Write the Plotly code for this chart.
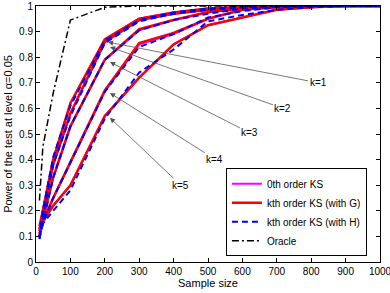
import plotly.graph_objects as go

sample_size = [10, 20, 50, 100, 200, 300, 400, 500, 600, 700, 800, 900, 1000]
k_labels = ["k=1", "k=2", "k=3", "k=4", "k=5"]

ks0 = [
    [0.10, 0.20, 0.40, 0.62, 0.87, 0.95, 0.975, 0.99, 0.997, 1.0, 1.0, 1.0, 1.0],
    [0.10, 0.19, 0.38, 0.58, 0.86, 0.945, 0.97, 0.985, 0.995, 1.0, 1.0, 1.0, 1.0],
    [0.10, 0.16, 0.33, 0.53, 0.79, 0.905, 0.945, 0.975, 0.99, 0.997, 1.0, 1.0, 1.0],
    [0.10, 0.15, 0.25, 0.39, 0.665, 0.85, 0.89, 0.95, 0.985, 0.995, 1.0, 1.0, 1.0],
    [0.10, 0.16, 0.22, 0.30, 0.57, 0.72, 0.85, 0.925, 0.955, 0.985, 0.995, 1.0, 1.0],
]
ks_g = [
    [0.12, 0.20, 0.40, 0.62, 0.87, 0.95, 0.975, 0.99, 0.997, 1.0, 1.0, 1.0, 1.0],
    [0.14, 0.20, 0.38, 0.58, 0.86, 0.945, 0.97, 0.985, 0.995, 1.0, 1.0, 1.0, 1.0],
    [0.13, 0.17, 0.33, 0.53, 0.79, 0.91, 0.945, 0.977, 0.99, 0.997, 1.0, 1.0, 1.0],
    [0.13, 0.16, 0.25, 0.39, 0.67, 0.855, 0.895, 0.95, 0.985, 0.995, 1.0, 1.0, 1.0],
    [0.11, 0.16, 0.22, 0.30, 0.57, 0.72, 0.85, 0.925, 0.955, 0.985, 0.995, 1.0, 1.0],
]
ks_h = [
    [0.10, 0.20, 0.41, 0.61, 0.865, 0.945, 0.975, 0.99, 0.997, 1.0, 1.0, 1.0, 1.0],
    [0.09, 0.18, 0.38, 0.57, 0.855, 0.94, 0.97, 0.985, 0.995, 1.0, 1.0, 1.0, 1.0],
    [0.10, 0.15, 0.33, 0.53, 0.79, 0.905, 0.945, 0.97, 0.99, 0.997, 1.0, 1.0, 1.0],
    [0.09, 0.15, 0.25, 0.39, 0.665, 0.84, 0.89, 0.955, 0.98, 0.995, 1.0, 1.0, 1.0],
    [0.15, 0.15, 0.20, 0.28, 0.56, 0.74, 0.83, 0.94, 0.965, 0.985, 0.995, 1.0, 1.0],
]
oracle = [0.24, 0.45, 0.66, 0.945, 0.995, 1.0, 1.0, 1.0, 1.0, 1.0, 1.0, 1.0, 1.0]

# annotation arrow tips (x, y) and label centres (x, y)
tip_x = [209, 215, 215, 215, 215]
tip_y = [0.859, 0.840, 0.781, 0.660, 0.563]
lab_x = [820, 718, 622, 520, 421]
lab_y = [0.70, 0.60, 0.504, 0.402, 0.30]

fig = go.Figure()
for i, ys in enumerate(ks0):
    fig.add_trace(go.Scatter(x=sample_size, y=ys, mode="lines", name="0th order KS",
                             legendgroup="k0", showlegend=(i == 0),
                             line=dict(color="#ff00ff", width=2)))
for i, ys in enumerate(ks_g):
    fig.add_trace(go.Scatter(x=sample_size, y=ys, mode="lines", name="kth order KS (with G)",
                             legendgroup="kg", showlegend=(i == 0),
                             line=dict(color="#ff0000", width=2.5)))
for i, ys in enumerate(ks_h):
    fig.add_trace(go.Scatter(x=sample_size, y=ys, mode="lines", name="kth order KS (with H)",
                             legendgroup="kh", showlegend=(i == 0),
                             line=dict(color="#0000ff", width=2, dash="6px,4px")))
fig.add_trace(go.Scatter(x=sample_size, y=oracle, mode="lines", name="Oracle",
                         line=dict(color="black", width=1.5, dash="7px,3px,2px,3px")))

for tx, ty, lx, ly, lab in zip(tip_x, tip_y, lab_x, lab_y, k_labels):
    fig.add_annotation(x=tx, y=ty, ax=lx, ay=ly, axref="x", ayref="y",
                       text=lab, showarrow=True, arrowhead=2, arrowsize=1.3,
                       arrowwidth=0.8, arrowcolor="#555555",
                       font=dict(size=10, color="black", family="Liberation Sans, Arial"))

axis_common = dict(showgrid=False, zeroline=False, showline=True, linecolor="black",
                   linewidth=1, mirror="ticks", ticks="inside", ticklen=4,
                   tickcolor="black", tickfont=dict(size=10, color="black"),
                   ticklabeloverflow="allow", automargin=False)
fig.update_xaxes(range=[0, 1000], dtick=100, tick0=0,
                 title=dict(text="Sample size", font=dict(size=11), standoff=2), **axis_common)
fig.update_yaxes(range=[0, 1], dtick=0.1, tick0=0,
                 title=dict(text="Power of the test at level α=0.05", font=dict(size=11), standoff=4),
                 **axis_common)

fig.update_layout(
    width=390, height=293,
    margin=dict(l=36, r=10, t=6, b=31),
    paper_bgcolor="white", plot_bgcolor="white",
    font=dict(family="Liberation Sans, Arial, sans-serif", color="black"),
    legend=dict(x=0.962, y=0.022, xanchor="right", yanchor="bottom",
                bgcolor="white", bordercolor="black", borderwidth=1,
                font=dict(size=10), tracegroupgap=0, itemwidth=30),
)

fig.write_html("out.html", config={"displayModeBar": False},
               post_script="document.body.style.margin='0';document.body.style.overflow='hidden';")
